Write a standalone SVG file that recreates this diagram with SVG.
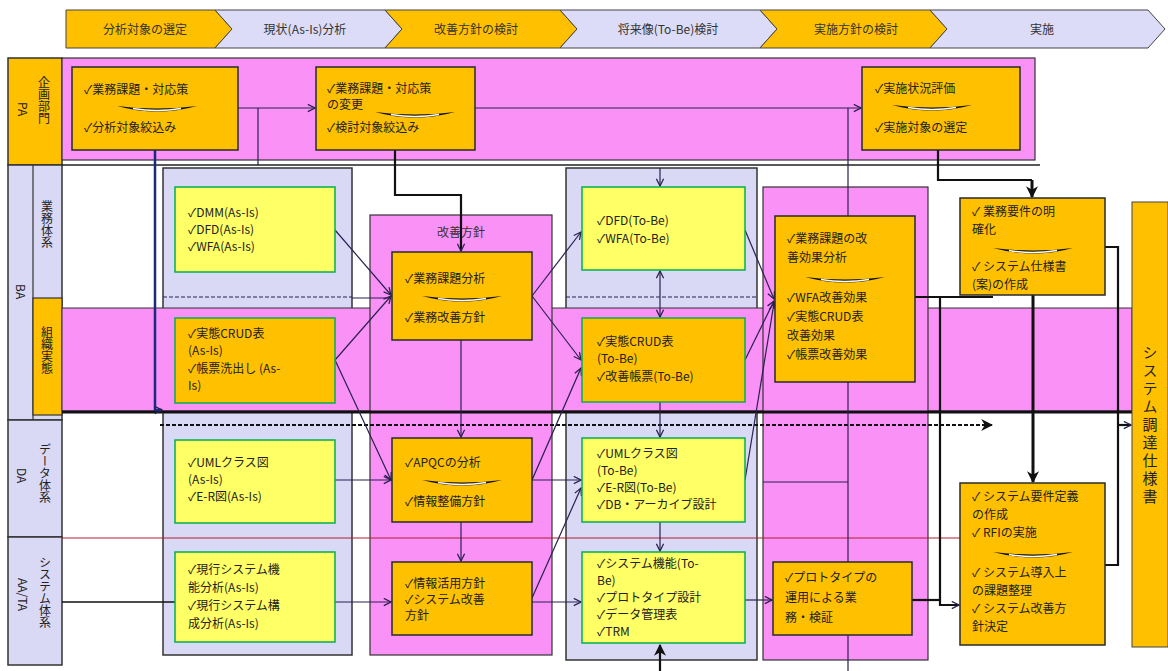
<svg xmlns="http://www.w3.org/2000/svg" xmlns:xlink="http://www.w3.org/1999/xlink" width="1168" height="671" viewBox="0 0 1168 671">
<style>
.o{fill:#FFC000;stroke:#2a2a2a;stroke-width:1.5}
.y{fill:#FFFF66;stroke:#00B050;stroke-width:1.5}
.lav{fill:#D9D9F6;stroke:#333;stroke-width:1.5}
.pk{fill:#F991F6;stroke:#333;stroke-width:1.2}
.t{font-family:"Noto Sans CJK JP","Noto Sans CJK SC",sans-serif;font-size:12px;fill:#222}
.h{font-family:"Noto Sans CJK JP",sans-serif;font-size:12px;fill:#333;text-anchor:middle}
.v{font-family:"Noto Sans CJK JP",sans-serif;font-size:12px;fill:#222;writing-mode:vertical-rl}
.c{stroke:#2a2050;stroke-width:1.2;fill:none}
.ck{stroke:#111;stroke-width:2.2;fill:none}
.cb{stroke:#111;stroke-width:3;fill:none}
</style>
<defs>
<marker id="a" viewBox="0 0 10 10" refX="9" refY="5" markerWidth="9" markerHeight="9" markerUnits="userSpaceOnUse" orient="auto"><path d="M1,1 L9,5 L1,9" fill="none" stroke="#2a2050" stroke-width="1.4"/></marker>
<marker id="ak" viewBox="0 0 10 10" refX="9" refY="5" markerWidth="12" markerHeight="12" markerUnits="userSpaceOnUse" orient="auto"><path d="M0,0 L10,5 L0,10 L3,5 Z" fill="#111"/></marker>
<g id="sw"><path d="M-40,0 Q0,11 40,0 Q0,5 -40,0 Z" fill="#111"/><path d="M-24,2.5 Q0,6.5 24,2.5" stroke="#fff" stroke-width="1.3" fill="none"/></g>
</defs>

<g id="header">
<polygon points="66,10 215,10 232,29 215,48 66,48" fill="#FFC000" stroke="#444"/>
<polygon points="215,10 385,10 402,29 385,48 215,48 232,29" fill="#DCDCF8" stroke="#444"/>
<polygon points="385,10 560,10 577,29 560,48 385,48 402,29" fill="#FFC000" stroke="#444"/>
<polygon points="560,10 760,10 777,29 760,48 560,48 577,29" fill="#DCDCF8" stroke="#444"/>
<polygon points="760,10 930,10 947,29 930,48 760,48 777,29" fill="#FFC000" stroke="#444"/>
<polygon points="930,10 1148,10 1165,29 1148,48 930,48 947,29" fill="#DCDCF8" stroke="#444"/>
<text class="h" x="145" y="34">分析対象の選定</text>
<text class="h" x="305" y="34">現状(As-Is)分析</text>
<text class="h" x="476" y="34">改善方針の検討</text>
<text class="h" x="668" y="34">将来像(To-Be)検討</text>
<text class="h" x="856" y="34">実施方針の検討</text>
<text class="h" x="1042" y="34">実施</text>
</g>

<g id="left-labels">
<rect x="8" y="58" width="54" height="107" fill="#FFC000" stroke="#333" stroke-width="1.5"/>
<text class="t" transform="translate(18,102) rotate(90)">PA</text>
<text class="v" x="44" y="76">企画部門</text>
<rect x="8" y="165" width="54" height="255" class="lav"/>
<line x1="33" y1="165" x2="33" y2="420" stroke="#333" stroke-width="1.2"/>
<text class="t" transform="translate(16,284) rotate(90)">BA</text>
<text class="v" x="47" y="200">業務体系</text>
<rect x="33" y="298" width="29" height="117" fill="#FFC000" stroke="#333" stroke-width="1.2"/>
<text class="v" x="47" y="326">組織実態</text>
<rect x="8" y="420" width="54" height="117" class="lav"/>
<text class="t" transform="translate(17,468) rotate(90)">DA</text>
<text class="v" x="45" y="443">データ体系</text>
<rect x="8" y="537" width="54" height="128" class="lav"/>
<text class="t" transform="translate(18,578) rotate(90)">AA/TA</text>
<text class="v" x="45" y="556">システム体系</text>
</g>

<g id="bands">
<rect x="62" y="58" width="973" height="102" class="pk"/>
<rect x="163" y="168" width="189" height="487" class="lav"/>
<rect x="566" y="168" width="191" height="492" class="lav"/>
<rect x="62" y="308" width="1070" height="103" fill="#F991F6" stroke="#333" stroke-width="1"/>
<rect x="370" y="215" width="182" height="440" class="pk"/>
<rect x="763" y="187" width="165" height="473" class="pk"/>
<text class="h" x="461" y="237">改善方針</text>
</g>

<g id="connectors">
<line x1="62" y1="165" x2="1040" y2="165" stroke="#222" stroke-width="1.5"/>
<line x1="62" y1="412" x2="1132" y2="412" stroke="#111" stroke-width="3"/>
<line x1="163" y1="297" x2="352" y2="297" stroke="#2a2050" stroke-width="1.2" stroke-dasharray="4,2"/>
<line x1="566" y1="297" x2="757" y2="297" stroke="#2a2050" stroke-width="1.2" stroke-dasharray="4,2"/>
<line x1="160" y1="425" x2="992" y2="425" stroke="#111" stroke-width="2.2" stroke-dasharray="4,2" marker-end="url(#ak)"/>
<line x1="62" y1="538" x2="960" y2="538" stroke="#B02030" stroke-width="1"/>
<line x1="62" y1="602" x2="175" y2="602" stroke="#111" stroke-width="1.5"/>
<path class="c" d="M238,108 H315" marker-end="url(#a)"/>
<path class="c" d="M258,108 V165"/>
<path d="M155,150 V410 H162" stroke="#1a2a80" stroke-width="2.5" fill="none" marker-end="url(#a)"/>
<path class="c" d="M475,108 H861" marker-end="url(#a)"/>
<path class="ck" d="M395,150 V195 H461 V251" marker-end="url(#a)"/>
<path class="c" d="M848,108 V671"/>
<path class="c" d="M763,482 H848"/>
<path class="ck" d="M938,150 V180 H1032" />
<path class="cb" d="M1032,180 V197" marker-end="url(#ak)"/>
<path class="c" d="M335,230 L391,295" marker-end="url(#a)"/>
<path class="c" d="M335,360 L391,296" marker-end="url(#a)"/>
<path class="c" d="M352,298 H391"/>
<path class="c" d="M532,296 L581,232" marker-end="url(#a)"/>
<path class="c" d="M532,296 L581,360" marker-end="url(#a)"/>
<path class="c" d="M532,480 L581,368" marker-end="url(#a)"/>
<path class="c" d="M335,360 L391,480" marker-end="url(#a)"/>
<path class="c" d="M335,480 H391" marker-end="url(#a)"/>
<path class="c" d="M532,480 H581" marker-end="url(#a)"/>
<path class="c" d="M532,598 L581,488" marker-end="url(#a)"/>
<path class="c" d="M335,602 H391" marker-end="url(#a)"/>
<path class="c" d="M532,602 H581" marker-end="url(#a)"/>
<path class="c" d="M660,168 V186" marker-end="url(#a)"/>
<path class="c" d="M660,294 V271" marker-end="url(#a)"/>
<path class="c" d="M660,294 V317" marker-end="url(#a)"/>
<path class="c" d="M660,402 V437" marker-end="url(#a)"/>
<path class="c" d="M660,522 V551" marker-end="url(#a)"/>
<path class="c" d="M461,340 V437" marker-end="url(#a)"/>
<path class="c" d="M461,522 V561" marker-end="url(#a)"/>
<path class="ck" d="M660,671 V645" marker-end="url(#ak)"/>
<path class="c" d="M745,230 L774,299" marker-end="url(#a)"/>
<path class="c" d="M745,360 L774,301" marker-end="url(#a)"/>
<path class="c" d="M745,480 L774,303" marker-end="url(#a)"/>
<path class="c" d="M745,600 H772" marker-end="url(#a)"/>
<path class="ck" d="M915,297 H993"/>
<path class="ck" d="M940,297 V605 H959" marker-end="url(#a)"/>
<path class="ck" d="M912,600 H940"/>
<path class="cb" d="M1033,295 V482" marker-end="url(#ak)"/>
<path class="ck" d="M1105,247 H1118 V565 H1105"/>
<path class="ck" d="M1118,425 H1131" marker-end="url(#a)"/>
</g>

<g id="n-pa1">
<rect x="72" y="67" width="166" height="83" class="o"/>
<text class="t" x="84" y="94">✓業務課題・対応策</text>
<use xlink:href="#sw" x="157" y="106"/>
<text class="t" x="84" y="132">✓分析対象絞込み</text>
</g>
<g id="n-pa2">
<rect x="316" y="67" width="159" height="83" class="o"/>
<text class="t" x="327" y="93">✓業務課題・対応策</text>
<text class="t" x="327" y="109">の変更</text>
<use xlink:href="#sw" x="415" y="112"/>
<text class="t" x="327" y="132">✓検討対象絞込み</text>
</g>
<g id="n-pa3">
<rect x="862" y="67" width="158" height="83" class="o"/>
<text class="t" x="875" y="93">✓実施状況評価</text>
<use xlink:href="#sw" x="932" y="105"/>
<text class="t" x="875" y="132">✓実施対象の選定</text>
</g>

<g id="n-asis-ba">
<rect x="175" y="187" width="160" height="85" class="y"/>
<text class="t" x="188" y="217">✓DMM(As-Is)</text>
<text class="t" x="188" y="234">✓DFD(As-Is)</text>
<text class="t" x="188" y="251">✓WFA(As-Is)</text>
</g>
<g id="n-asis-org">
<rect x="175" y="318" width="160" height="85" class="o" style="stroke:#00B050"/>
<text class="t" x="188" y="338">✓実態CRUD表</text>
<text class="t" x="188" y="355">(As-Is)</text>
<text class="t" x="188" y="373">✓帳票洗出し (As-</text>
<text class="t" x="188" y="390">Is)</text>
</g>
<g id="n-asis-da">
<rect x="175" y="440" width="160" height="83" class="y"/>
<text class="t" x="188" y="467">✓UMLクラス図</text>
<text class="t" x="188" y="484">(As-Is)</text>
<text class="t" x="188" y="501">✓E-R図(As-Is)</text>
</g>
<g id="n-asis-aa">
<rect x="175" y="552" width="160" height="90" class="y"/>
<text class="t" x="188" y="574">✓現行システム機</text>
<text class="t" x="188" y="592">能分析(As-Is)</text>
<text class="t" x="188" y="610">✓現行システム構</text>
<text class="t" x="188" y="628">成分析(As-Is)</text>
</g>

<g id="n-kaizen1">
<rect x="392" y="252" width="140" height="88" class="o"/>
<text class="t" x="405" y="283">✓業務課題分析</text>
<use xlink:href="#sw" x="462" y="296"/>
<text class="t" x="405" y="322">✓業務改善方針</text>
</g>
<g id="n-kaizen2">
<rect x="392" y="438" width="140" height="84" class="o"/>
<text class="t" x="405" y="467">✓APQCの分析</text>
<use xlink:href="#sw" x="462" y="480"/>
<text class="t" x="405" y="506">✓情報整備方針</text>
</g>
<g id="n-kaizen3">
<rect x="392" y="562" width="140" height="73" class="o"/>
<text class="t" x="405" y="588">✓情報活用方針</text>
<text class="t" x="405" y="604">✓システム改善</text>
<text class="t" x="405" y="620">方針</text>
</g>

<g id="n-tobe-ba">
<rect x="582" y="187" width="163" height="83" class="y"/>
<text class="t" x="597" y="225">✓DFD(To-Be)</text>
<text class="t" x="597" y="243">✓WFA(To-Be)</text>
</g>
<g id="n-tobe-org">
<rect x="582" y="318" width="163" height="84" class="o" style="stroke:#00B050"/>
<text class="t" x="597" y="346">✓実態CRUD表</text>
<text class="t" x="597" y="363">(To-Be)</text>
<text class="t" x="597" y="381">✓改善帳票(To-Be)</text>
</g>
<g id="n-tobe-da">
<rect x="582" y="438" width="163" height="84" class="y"/>
<text class="t" x="597" y="458">✓UMLクラス図</text>
<text class="t" x="597" y="475">(To-Be)</text>
<text class="t" x="597" y="492">✓E-R図(To-Be)</text>
<text class="t" x="597" y="509">✓DB・アーカイブ設計</text>
</g>
<g id="n-tobe-aa">
<rect x="582" y="552" width="163" height="91" class="y"/>
<text class="t" x="597" y="568">✓システム機能(To-</text>
<text class="t" x="597" y="585">Be)</text>
<text class="t" x="597" y="602">✓プロトタイプ設計</text>
<text class="t" x="597" y="619">✓データ管理表</text>
<text class="t" x="597" y="636">✓TRM</text>
</g>

<g id="n-effect">
<rect x="775" y="216" width="140" height="166" class="o"/>
<text class="t" x="787" y="243">✓業務課題の改</text>
<text class="t" x="787" y="262">善効果分析</text>
<use xlink:href="#sw" x="845" y="277"/>
<text class="t" x="787" y="302">✓WFA改善効果</text>
<text class="t" x="787" y="321">✓実態CRUD表</text>
<text class="t" x="787" y="340">改善効果</text>
<text class="t" x="787" y="359">✓帳票改善効果</text>
</g>
<g id="n-proto">
<rect x="773" y="562" width="139" height="73" class="o"/>
<text class="t" x="785" y="582">✓プロトタイプの</text>
<text class="t" x="785" y="602">運用による業</text>
<text class="t" x="785" y="622">務・検証</text>
</g>

<g id="n-req">
<rect x="960" y="198" width="145" height="97" class="o"/>
<text class="t" x="972" y="216">✓ 業務要件の明</text>
<text class="t" x="972" y="234">確化</text>
<use xlink:href="#sw" x="1033" y="248"/>
<text class="t" x="972" y="271">✓ システム仕様書</text>
<text class="t" x="972" y="289">(案)の作成</text>
</g>
<g id="n-sysreq">
<rect x="960" y="483" width="145" height="162" class="o"/>
<text class="t" x="972" y="501">✓ システム要件定義</text>
<text class="t" x="972" y="519">の作成</text>
<text class="t" x="972" y="537">✓ RFIの実施</text>
<use xlink:href="#sw" x="1033" y="552"/>
<text class="t" x="972" y="577">✓ システム導入上</text>
<text class="t" x="972" y="595">の課題整理</text>
<text class="t" x="972" y="613">✓ システム改善方</text>
<text class="t" x="972" y="631">針決定</text>
</g>

<g id="n-spec">
<rect x="1132" y="202" width="36" height="445" fill="#FFC000" stroke="#444" stroke-width="1"/>
<text class="v" x="1150" y="345" style="font-size:15px;letter-spacing:3px">システム調達仕様書</text>
</g>
</svg>
